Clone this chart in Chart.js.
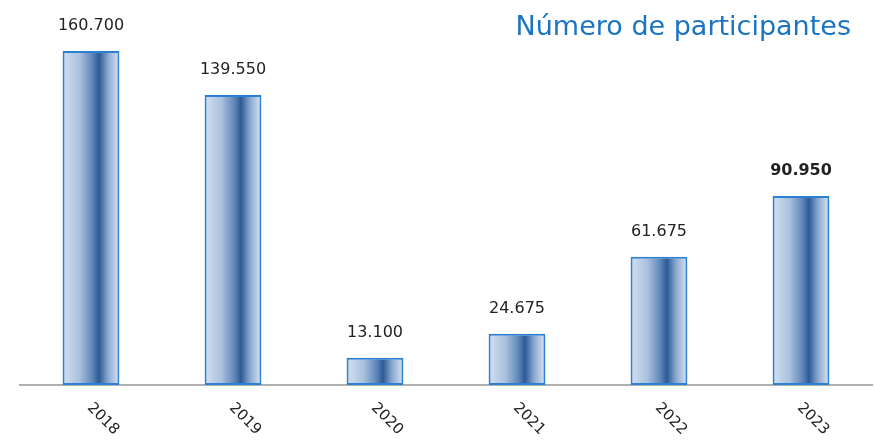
<!DOCTYPE html>
<html>
<head>
<meta charset="utf-8">
<script src="https://cdn.jsdelivr.net/npm/chart.js@4/dist/chart.umd.min.js"></script>
<style>
  html, body { margin: 0; padding: 0; background: #fff; }
  #wrap { width: 874px; height: 442px; position: relative; }
</style>
</head>
<body>
<div id="wrap"><canvas id="chart"></canvas></div>
<script>
// data
const years = ['2018', '2019', '2020', '2021', '2022', '2023'];
const participants = [160700, 139550, 13100, 24675, 61675, 90950];
const valueLabels = ['160.700', '139.550', '13.100', '24.675', '61.675', '90.950'];
const boldIndex = 5;
const chartTitle = 'Número de participantes';
const barFrac = 0.4;

function barGradient(c) {
    const chart = c.chart;
    const xs = chart.scales.x;
    if (!xs || !chart.chartArea) return '#6f93c4';
    const cx = xs.getPixelForValue(c.dataIndex);
    const half = xs.width / years.length * barFrac / 2;
    const g = chart.ctx.createLinearGradient(cx - half, 0, cx + half, 0);
    g.addColorStop(0, '#d4e0f0');
    g.addColorStop(0.3, '#aac0dd');
    g.addColorStop(0.52, '#6088bb');
    g.addColorStop(0.64, '#2d5a95');
    g.addColorStop(0.8, '#8aa8cf');
    g.addColorStop(1, '#dde6f3');
    return g;
}

const labelsPlugin = {
    id: 'labels',
    afterDatasetsDraw(chart) {
        const ctx = chart.ctx;
        const meta = chart.getDatasetMeta(0);
        const xs = chart.scales.x;
        ctx.save();
        ctx.fillStyle = '#222';
        ctx.textAlign = 'center';
        ctx.textBaseline = 'middle';
        meta.data.forEach((bar, i) => {
            ctx.font = (i === boldIndex ? 'bold 16px' : '16px') + ' "DejaVu Sans", sans-serif';
            ctx.fillText(valueLabels[i], bar.x, bar.y - 25);
        });
        // x labels turned clockwise
        ctx.font = '15px "DejaVu Sans", sans-serif';
        years.forEach((y, i) => {
            const x = xs.getPixelForValue(i);
            ctx.save();
            ctx.translate(x + 12, xs.bottom + 34);
            ctx.rotate(Math.PI / 4);
            ctx.fillText(y, 0, 0);
            ctx.restore();
        });
        // title
        ctx.font = '27px "DejaVu Sans", sans-serif';
        ctx.fillStyle = '#1b74c3';
        ctx.textAlign = 'right';
        ctx.fillText(chartTitle, 851, 28);
        ctx.restore();
    }
};

new Chart(document.getElementById('chart'), {
    type: 'bar',
    data: {
        labels: years,
        datasets: [{
            data: participants,
            backgroundColor: barGradient,
            borderColor: '#2b80d2',
            borderWidth: 2,
            borderSkipped: false,
            barPercentage: barFrac,
            categoryPercentage: 1
        }]
    },
    options: {
        responsive: true,
        maintainAspectRatio: false,
        animation: false,
        layout: { padding: { top: 11, left: 20, right: 2, bottom: 57 } },
        scales: {
            x: {
                grid: { display: false, drawTicks: false },
                ticks: { display: false },
                border: { color: '#b0b0b0', width: 2 }
            },
            y: { display: false, min: 0, max: 180000 }
        },
        plugins: {
            legend: { display: false },
            tooltip: { enabled: false }
        }
    },
    plugins: [labelsPlugin]
});
</script>
</body>
</html>
